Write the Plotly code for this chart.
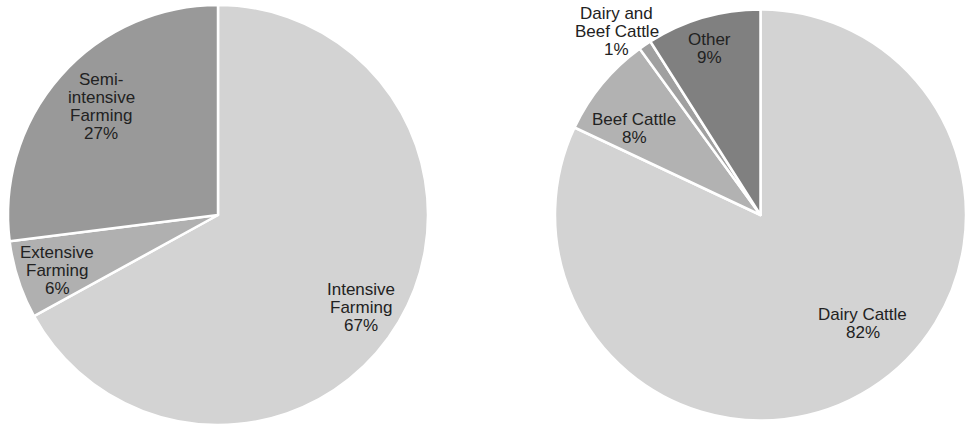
import math
import plotly.graph_objects as go

# Left pie: farming systems
farm_labels = ["Intensive<br>Farming", "Extensive<br>Farming", "Semi-<br>intensive<br>Farming"]
farm_values = [67, 6, 27]
farm_colors = ["#d3d3d3", "#b0b0b0", "#999999"]
# label placement: radius fraction and angular nudge (deg) from the slice mid-angle
farm_label_r = [0.81, 0.81, 0.76]
farm_label_da = [2.3, -0.9, 1.6]

# Right pie: cattle type
cattle_labels = ["Dairy Cattle", "Beef Cattle", "Dairy and<br>Beef Cattle", "Other"]
cattle_values = [82, 8, 1, 9]
cattle_colors = ["#d3d3d3", "#b2b2b2", "#a0a0a0", "#808080"]
cattle_label_r = [0.724, 0.744, 1.133, 0.846]
cattle_label_da = [-11.0, -5.3, -3.9, -0.9]

W, H = 966, 430
LINE = 18  # line spacing of the labels in px
font = dict(family="Liberation Sans, Arial, Helvetica, sans-serif", size=17, color="#222222")

left_dom = dict(x=[8 / W, 428 / W], y=[5 / H, 425 / H])
right_dom = dict(x=[555 / W, 1.0], y=[5 / H, 425 / H])

fig = go.Figure()
annotations = []


def add_pie(labels, values, colors, label_r, label_da, dom):
    fig.add_trace(go.Pie(
        labels=labels, values=values, sort=False, direction="clockwise", rotation=0,
        marker=dict(colors=colors, line=dict(color="white", width=2.5)),
        textinfo="none", domain=dom, showlegend=False, hoverinfo="label+percent",
    ))
    x0, x1 = dom["x"][0] * W, dom["x"][1] * W
    y0, y1 = dom["y"][0] * H, dom["y"][1] * H
    cx, cy = (x0 + x1) / 2, (y0 + y1) / 2
    R = min(x1 - x0, y1 - y0) / 2
    total = sum(values)
    cum = 0
    for lab, v, rf, da in zip(labels, values, label_r, label_da):
        mid = (cum + v / 2) / total * 2 * math.pi + math.radians(da)
        cum += v
        px = cx + rf * R * math.sin(mid)
        py = cy + rf * R * math.cos(mid)
        lines = lab.split("<br>") + [f"{round(100 * v / total)}%"]
        n = len(lines)
        for i, ln in enumerate(lines):
            annotations.append(dict(
                x=px / W, y=py / H, xref="paper", yref="paper",
                text=ln, showarrow=False, font=font,
                xanchor="center", yanchor="middle",
                yshift=((n - 1) / 2 - i) * LINE,
            ))


add_pie(farm_labels, farm_values, farm_colors, farm_label_r, farm_label_da, left_dom)
add_pie(cattle_labels, cattle_values, cattle_colors, cattle_label_r, cattle_label_da, right_dom)

fig.update_layout(
    width=W, height=H, margin=dict(l=0, r=0, t=0, b=0),
    paper_bgcolor="white", plot_bgcolor="white",
    annotations=annotations,
)
fig.write_html("out.html", config={"displayModeBar": False})
